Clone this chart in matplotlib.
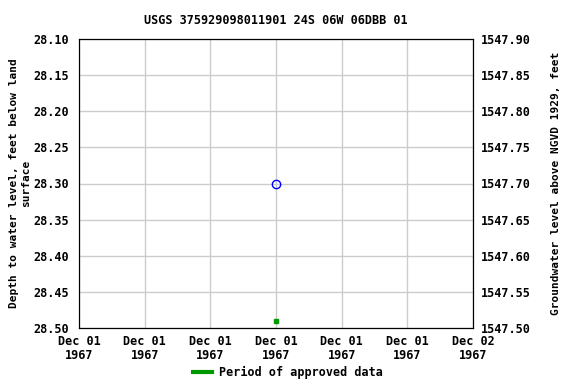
import numpy as np
import matplotlib
matplotlib.use("Agg")
import matplotlib.pyplot as plt
import matplotlib.dates as mdates
import pandas as pd

# data
obs_time = pd.to_datetime(["1967-12-01 12:00"])
obs_depth = [28.30]
approved_time = pd.to_datetime(["1967-12-01 12:00"])
approved_depth = [28.49]
tick_times = pd.date_range("1967-12-01 00:00", "1967-12-02 00:00", freq="4h")
tick_labels = ["Dec 01\n1967"] * 6 + ["Dec 02\n1967"]
left_ticks = [28.10, 28.15, 28.20, 28.25, 28.30, 28.35, 28.40, 28.45, 28.50]
datum_offset = 1576.00  # depth 28.10 -> 1547.90

plt.rcParams['font.family'] = ['DejaVu Sans Mono']
plt.rcParams['font.weight'] = 'bold'
plt.rcParams['font.size'] = 8.5

fig = plt.figure(figsize=(5.76, 3.84), dpi=100)
ax = fig.add_axes([79/576, 1 - 328/384, (473-79)/576, (328-39)/384])

ax.plot(obs_time, obs_depth, 'o', mfc='none', mec='#0000ff', ms=6, mew=1.0, zorder=3)
ax.plot(approved_time, approved_depth, 's', color='#009900', ms=3, zorder=3)

ax.set_xlim(tick_times[0], tick_times[-1])
ax.set_xticks(tick_times)
ax.set_xticklabels(tick_labels, linespacing=1.1)
ax.set_ylim(28.50, 28.10)
ax.set_yticks(left_ticks)
ax.set_yticklabels([f"{v:.2f}" for v in left_ticks])
ax.grid(True, color='#cccccc', lw=1)
ax.tick_params(axis='y', length=0, pad=7)
ax.tick_params(axis='x', length=0, pad=5)
for s in ax.spines.values():
    s.set_color('black')
ax.set_ylabel("Depth to water level, feet below land\nsurface", fontweight='bold',
              fontsize=8, labelpad=2)
ax.set_title("USGS 375929098011901 24S 06W 06DBB 01", fontweight='bold',
             fontsize=8.5, pad=11)

ax2 = ax.twinx()
ax2.set_ylim(datum_offset - 28.50, datum_offset - 28.10)
right_ticks = [datum_offset - v for v in left_ticks]
ax2.set_yticks(right_ticks)
ax2.set_yticklabels([f"{v:.2f}" for v in right_ticks])
ax2.tick_params(length=0, pad=6)
ax2.set_ylabel("Groundwater level above NGVD 1929, feet", fontweight='bold',
               fontsize=8, labelpad=14)

ax.plot([], [], color='#009900', lw=3, label='Period of approved data')
fig.legend(loc='lower center', bbox_to_anchor=(0.5, -0.015), frameon=False,
           handlelength=1.6, handletextpad=0.6)

fig.savefig("out.png", dpi=100)
